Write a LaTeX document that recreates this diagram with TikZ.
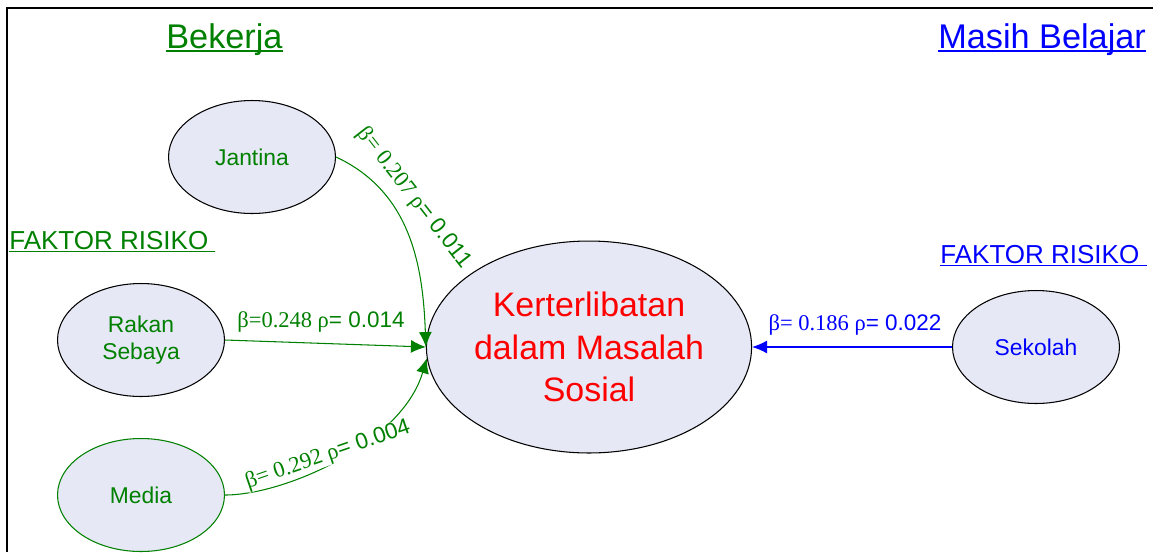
\documentclass[tikz,border=0pt]{standalone}
\usepackage{fontspec}
\setmainfont{Liberation Sans}
\newfontfamily\tms{Liberation Serif}
\usetikzlibrary{shapes.geometric,arrows.meta}
\definecolor{fgreen}{RGB}{0,128,0}
\definecolor{fblue}{RGB}{0,0,255}
\definecolor{cellfill}{RGB}{230,233,245}
\newcommand\ulabel[1]{\setbox0\hbox{#1}\rlap{\rule[-0.13em]{\wd0}{0.06em}}\box0}

\begin{document}
\begin{tikzpicture}[x=0.02cm,y=-0.02cm,
	factor/.style={ellipse,draw=black,line width=0.6pt,fill=cellfill,minimum width=3.34cm,minimum height=2.26cm,inner sep=0pt,align=center,font=\fontsize{13}{14.9}\selectfont},
	coef/.style={inner sep=0pt,fill=white,font=\fontsize{12.8}{14}\selectfont},
	head/.style={anchor=base west,inner sep=0pt,font=\fontsize{19.5}{22}\selectfont},
	risk/.style={anchor=base west,inner sep=0pt,font=\fontsize{14.8}{17}\selectfont},
	link/.style={line width=0.6pt,-{Latex[length=8.5pt,width=7.4pt]}}]
		\useasboundingbox (0,0) rectangle (1153,552);
		%Frame
		\draw[line width=1.5pt] (7,552) -- (7,8) -- (1153,8);
		
		%Headings
		\node[head,text=fgreen] (bekerja) at (166,48) {\ulabel{Bekerja}};
		\node[head,text=fblue] (belajar) at (938,48) {\ulabel{Masih Belajar}};
		\node[risk,text=fgreen] (riskL) at (9,249) {\ulabel{FAKTOR RISIKO\ }};
		\node[risk,text=fblue] (riskR) at (940,263) {\ulabel{FAKTOR RISIKO\ }};
		
		%Factors
		\node[factor,text=fgreen] (jantina) at (252,157) {Jantina};
		\node[factor,text=fgreen] (rakan) at (141,340) {Rakan\\Sebaya};
		\node[factor,draw=fgreen,text=fgreen] (media) at (141,495) {Media};
		\node[factor,text=fblue] (sekolah) at (1036,347) {Sekolah};
		
		%Outcome
		\node[factor,minimum width=6.24cm,minimum height=4.24cm,text=red,font=\fontsize{19.3}{24.1}\selectfont] (masalah) at (589,347) {Kerterlibatan\\dalam Masalah\\Sosial};
		
		%Paths
		\draw[link,fgreen] (jantina.east) to[out=-25,in=92] (masalah.west);
		\draw[link,fgreen] (rakan.east) -- (masalah.west);
		\draw[link,fgreen] (media.east) .. controls +(60,0) and +(-25,85) .. (masalah.184);
		\draw[link,fblue] (sekolah.west) -- (masalah.east);
		
		%Coefficients
		\node[coef,text=fgreen,rotate=-52] (cj) at (414,198) {{\tms β= 0.207 ρ}= 0.011};
		\node[coef,text=fgreen] (cr) at (321,322) {{\tms β=0.248 ρ}= 0.014};
		\node[coef,text=fgreen,rotate=19] (cm) at (328,455) {{\tms β= 0.292 ρ}= 0.004};
		\node[coef,text=fblue] (cs) at (855,325) {{\tms β= 0.186 ρ}= 0.022};
		
	\end{tikzpicture}
\end{document}
